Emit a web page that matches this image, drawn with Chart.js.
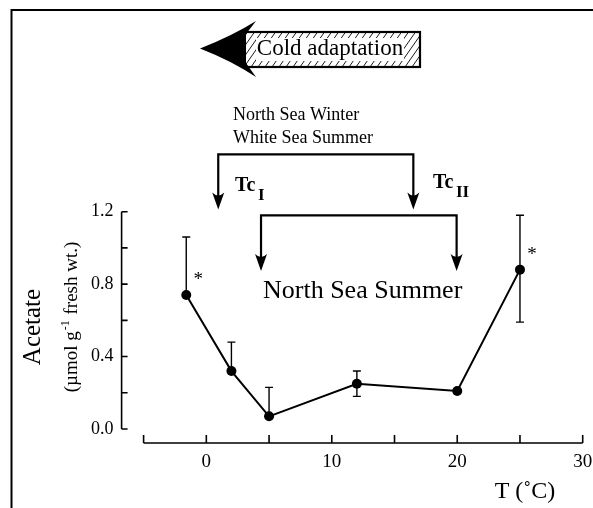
<!DOCTYPE html>
<html>
<head>
<meta charset="utf-8">
<script src="https://cdn.jsdelivr.net/npm/chart.js@4"></script>
<style>
html,body{margin:0;padding:0;background:#fff;}
#wrap{width:593px;height:508px;position:relative;}
</style>
</head>
<body>
<div id="wrap"><canvas id="c" width="593" height="508"></canvas></div>
<script>
// ---- data ----
const temps = [-1.6, 2, 5, 12, 20, 25];
const acetate = [0.74, 0.32, 0.07, 0.25, 0.21, 0.88];
const errUp = [0.32, 0.16, 0.16, 0.07, 0, 0.30];
const errDown = [0, 0, 0, 0.07, 0, 0.29];
const significant = [true, false, false, false, false, true];
const xTickLabels = [0, 10, 20, 30];
const yTickLabels = [0.0, 0.4, 0.8, 1.2];

const SERIF = '"Liberation Serif", "Times New Roman", serif';

function arrowDown(ctx, x, tipY) {
  ctx.beginPath();
  ctx.moveTo(x, tipY);
  ctx.lineTo(x - 6, tipY - 17);
  ctx.quadraticCurveTo(x, tipY - 11, x + 6, tipY - 17);
  ctx.closePath();
  ctx.fill();
}

const decor = {
  id: 'decor',
  beforeDraw(chart) {
    const ctx = chart.ctx;
    ctx.save();
    ctx.fillStyle = '#fff';
    ctx.fillRect(0, 0, chart.width, chart.height);
    ctx.strokeStyle = '#000';
    ctx.lineWidth = 2;
    ctx.beginPath();
    ctx.moveTo(11.5, 508);
    ctx.lineTo(11.5, 10);
    ctx.lineTo(593, 10);
    ctx.stroke();
    ctx.restore();
  },
  afterDatasetsDraw(chart) {
    const ctx = chart.ctx;
    const xs = chart.scales.x, ys = chart.scales.y;
    ctx.save();
    ctx.strokeStyle = '#000';
    ctx.fillStyle = '#000';
    // ---- axes ----
    const yAxisX = xs.getPixelForValue(-5) - 22;
    ctx.lineWidth = 1.6;
    ctx.beginPath();
    ctx.moveTo(yAxisX, ys.getPixelForValue(0));
    ctx.lineTo(yAxisX, ys.getPixelForValue(1.2));
    for (let v = 0; v <= 1.2001; v += 0.2) {
      const py = ys.getPixelForValue(v);
      ctx.moveTo(yAxisX, py);
      ctx.lineTo(yAxisX + 6, py);
    }
    const xAxisY = ys.getPixelForValue(0) + 14;
    ctx.moveTo(xs.getPixelForValue(-5), xAxisY);
    ctx.lineTo(xs.getPixelForValue(30), xAxisY);
    for (let v = -5; v <= 30; v += 5) {
      const px = xs.getPixelForValue(v);
      ctx.moveTo(px, xAxisY);
      ctx.lineTo(px, xAxisY - 8);
    }
    ctx.stroke();
    ctx.font = '19px ' + SERIF;
    ctx.textAlign = 'center';
    ctx.textBaseline = 'middle';
    xTickLabels.forEach(v => ctx.fillText(String(v), xs.getPixelForValue(v), xAxisY + 19));

    // ---- error bars ----
    ctx.lineWidth = 1.4;
    temps.forEach((t, i) => {
      const px = xs.getPixelForValue(t);
      const y0 = ys.getPixelForValue(acetate[i]);
      if (errUp[i] > 0) {
        const yt = ys.getPixelForValue(acetate[i] + errUp[i]);
        ctx.beginPath();
        ctx.moveTo(px, y0); ctx.lineTo(px, yt);
        ctx.moveTo(px - 4, yt); ctx.lineTo(px + 4, yt);
        ctx.stroke();
      }
      if (errDown[i] > 0) {
        const yb = ys.getPixelForValue(acetate[i] - errDown[i]);
        ctx.beginPath();
        ctx.moveTo(px, y0); ctx.lineTo(px, yb);
        ctx.moveTo(px - 4, yb); ctx.lineTo(px + 4, yb);
        ctx.stroke();
      }
      if (significant[i]) {
        ctx.font = '19px ' + SERIF;
        ctx.textAlign = 'center';
        ctx.textBaseline = 'middle';
        ctx.fillText('*', px + 12, y0 - 15);
      }
    });

    // ---- brackets ----
    ctx.lineWidth = 2.2;
    const b1L = xs.getPixelForValue(0.95), b1R = xs.getPixelForValue(16.5);
    const b1Y = ys.getPixelForValue(1.517), b1T = ys.getPixelForValue(1.212);
    ctx.beginPath();
    ctx.moveTo(b1L, b1T - 8); ctx.lineTo(b1L, b1Y); ctx.lineTo(b1R, b1Y); ctx.lineTo(b1R, b1T - 8);
    ctx.stroke();
    arrowDown(ctx, b1L, b1T);
    arrowDown(ctx, b1R, b1T);
    const b2L = xs.getPixelForValue(4.36), b2R = xs.getPixelForValue(19.95);
    const b2Y = ys.getPixelForValue(1.18), b2T = ys.getPixelForValue(0.872);
    ctx.beginPath();
    ctx.moveTo(b2L, b2T - 8); ctx.lineTo(b2L, b2Y); ctx.lineTo(b2R, b2Y); ctx.lineTo(b2R, b2T - 8);
    ctx.stroke();
    arrowDown(ctx, b2L, b2T);
    arrowDown(ctx, b2R, b2T);

    // ---- texts ----
    ctx.textAlign = 'left';
    ctx.textBaseline = 'alphabetic';
    ctx.font = '18px ' + SERIF;
    ctx.fillText('North Sea Winter', 233, 120);
    ctx.fillText('White Sea Summer', 233, 143);
    ctx.font = '26px ' + SERIF;
    ctx.fillText('North Sea Summer', 263, 298);
    ctx.font = 'bold 20px ' + SERIF;
    ctx.fillText('Tc', 235, 191);
    ctx.fillText('Tc', 433, 188);
    ctx.font = 'bold 17px ' + SERIF;
    ctx.fillText('I', 258, 200);
    ctx.fillText('II', 456, 197);

    // ---- cold adaptation arrow ----
    const rx = 242, ry = 32, rw = 178, rh = 35;
    ctx.save();
    ctx.beginPath();
    ctx.rect(rx, ry, rw, rh);
    ctx.clip();
    ctx.lineWidth = 0.9;
    ctx.beginPath();
    for (let k = -40; k < rw + 40; k += 7) {
      ctx.moveTo(rx + k, ry + rh);
      ctx.lineTo(rx + k + rh * 0.7, ry);
    }
    ctx.stroke();
    ctx.restore();
    ctx.fillStyle = '#fff';
    ctx.fillRect(256, 38, 148, 23);
    ctx.fillStyle = '#000';
    ctx.lineWidth = 2.2;
    ctx.strokeRect(rx, ry, rw, rh);
    ctx.beginPath();
    ctx.moveTo(200, 48.5);
    ctx.quadraticCurveTo(232, 36, 256, 21);
    ctx.lineTo(246, 34);
    ctx.lineTo(246, 63);
    ctx.lineTo(256, 77);
    ctx.quadraticCurveTo(232, 61, 200, 48.5);
    ctx.closePath();
    ctx.fill();
    ctx.font = '23px ' + SERIF;
    ctx.textAlign = 'center';
    ctx.textBaseline = 'middle';
    ctx.fillText('Cold adaptation', 330, 49);

    // ---- axis titles ----
    ctx.save();
    ctx.translate(33, 327);
    ctx.rotate(-Math.PI / 2);
    ctx.font = '25px ' + SERIF;
    ctx.textAlign = 'center';
    ctx.textBaseline = 'middle';
    ctx.fillText('Acetate', 0, 0);
    ctx.restore();
    ctx.save();
    ctx.translate(72, 317);
    ctx.rotate(-Math.PI / 2);
    ctx.font = '19px ' + SERIF;
    ctx.textBaseline = 'middle';
    const p1 = '(µmol g', p2 = '-1', p3 = ' fresh wt.)';
    const w1 = ctx.measureText(p1).width;
    ctx.font = '12px ' + SERIF;
    const w2 = ctx.measureText(p2).width;
    ctx.font = '19px ' + SERIF;
    const w3 = ctx.measureText(p3).width;
    let sx = -(w1 + w2 + w3 + 2) / 2;
    ctx.textAlign = 'left';
    ctx.fillText(p1, sx, 0);
    ctx.font = '12px ' + SERIF;
    ctx.fillText(p2, sx + w1 + 1, -6);
    ctx.font = '19px ' + SERIF;
    ctx.fillText(p3, sx + w1 + w2 + 2, 0);
    ctx.restore();
    ctx.font = '24px ' + SERIF;
    ctx.textAlign = 'center';
    ctx.textBaseline = 'middle';
    ctx.fillText('T (˚C)', 525, 492);
    ctx.restore();
  }
};

new Chart(document.getElementById('c'), {
  type: 'line',
  data: {
    datasets: [{
      data: temps.map((t, i) => ({x: t, y: acetate[i]})),
      borderColor: '#000',
      backgroundColor: '#000',
      borderWidth: 2,
      pointRadius: 5,
      pointBackgroundColor: '#000',
      pointBorderWidth: 0,
      tension: 0
    }]
  },
  options: {
    responsive: false,
    animation: false,
    events: [],
    layout: {padding: {top: 211.7, right: 10.3, left: 0, bottom: 0}},
    plugins: {legend: {display: false}, tooltip: {enabled: false}},
    scales: {
      x: {
        type: 'linear', min: -5, max: 30,
        border: {display: false},
        grid: {display: false, drawTicks: false},
        afterFit(s) { s.height = 79; },
        ticks: {display: false}
      },
      y: {
        type: 'linear', min: 0, max: 1.2,
        border: {display: false},
        grid: {display: false, drawTicks: false},
        afterFit(s) { s.width = 143.6; },
        afterBuildTicks(s) { s.ticks = yTickLabels.map(v => ({value: v})); },
        ticks: {padding: 30, color: '#000', font: {family: SERIF, size: 18},
                callback: v => Number(v).toFixed(1)}
      }
    }
  },
  plugins: [decor]
});
</script>
</body>
</html>
